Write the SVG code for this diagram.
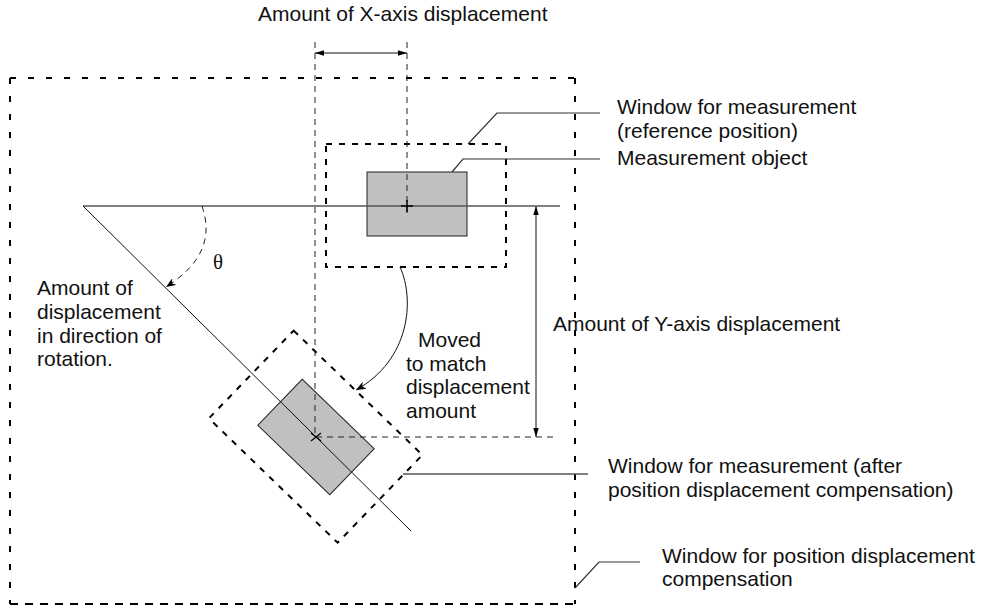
<svg xmlns="http://www.w3.org/2000/svg" width="981" height="608" viewBox="0 0 981 608">
<style>
text{font-family:"Liberation Sans",Arial,sans-serif;font-size:21px;fill:#111}
.th{font-family:"Liberation Serif","DejaVu Serif",serif}
.bd{fill:none;stroke:#000;stroke-width:2}
.win{fill:none;stroke:#000;stroke-width:2;stroke-dasharray:6 7}
.thin{fill:none;stroke:#222;stroke-width:1;stroke-dasharray:6 5}
.ln{fill:none;stroke:#111;stroke-width:1}
.gl{fill:none;stroke:#555;stroke-width:1.6}
.ld{fill:none;stroke:#333;stroke-width:1.2}
.obj{fill:#c0c0c0;stroke:#222;stroke-width:1}
</style>
<defs>
<marker id="ah" viewBox="0 0 10 6" refX="10" refY="3" markerWidth="9" markerHeight="6" markerUnits="userSpaceOnUse" orient="auto-start-reverse">
<path d="M0,0 L10,3 L0,6 z" fill="#000"/>
</marker>
<marker id="bh" viewBox="0 0 10 8" refX="10" refY="4" markerWidth="10" markerHeight="8" markerUnits="userSpaceOnUse" orient="auto">
<path d="M0,0 L10,4 L0,8 L3,4 z" fill="#000"/>
</marker>
</defs>

<g id="outer-window">
<line class="bd" x1="10" y1="78" x2="575" y2="78" stroke-dasharray="6 12"/>
<line class="bd" x1="10" y1="78" x2="10" y2="604" stroke-dasharray="6 12"/>
<line class="bd" x1="575" y1="78" x2="575" y2="604" stroke-dasharray="6 12"/>
<line class="bd" x1="10" y1="604" x2="575" y2="604" stroke-dasharray="8 7"/>
</g>

<g id="ref-window">
<rect class="win" x="326" y="144" width="180" height="123"/>
</g>
<g id="ref-object">
<rect class="obj" x="367" y="172" width="100" height="64"/>
</g>

<g id="moved-window" transform="translate(316,437) rotate(44)">
<rect class="win" x="-90" y="-61" width="179" height="122"/>
</g>
<g id="moved-object" transform="translate(316,437) rotate(44)">
<rect class="obj" x="-50" y="-32" width="100" height="64"/>
</g>

<g id="connectors">
<line class="thin" x1="315" y1="42" x2="315" y2="437"/>
<line class="thin" x1="407" y1="42" x2="407" y2="215"/>
<line class="thin" x1="316" y1="437" x2="556" y2="437"/>
<line class="ln" x1="315" y1="53" x2="407" y2="53" marker-start="url(#ah)" marker-end="url(#ah)"/>
<line class="ln" x1="536" y1="206" x2="536" y2="437" marker-start="url(#ah)" marker-end="url(#ah)"/>
<line class="gl" x1="83" y1="206" x2="560" y2="206"/>
<line class="ln" x1="83" y1="206" x2="411" y2="531"/>
<path class="thin" d="M202,206 C212,235 205,262 166,287" marker-end="url(#bh)"/>
<path class="ln" d="M400,267 C415,300 410,360 356,390" marker-end="url(#bh)"/>
<polyline class="ld" points="468,144 497,113 600,113"/>
<polyline class="ld" points="452,172 463,159 600,159"/>
<line class="gl" x1="403" y1="474" x2="588" y2="474"/>
<polyline class="ld" points="575,588 599,562 640,562"/>
<path d="M401,206 H413 M407,200 V212" stroke="#000" stroke-width="1.5"/>
<path d="M316,437 m-5,-4 l10,8 m0,-8 l-10,8" stroke="#000" stroke-width="1.2"/>
</g>

<g id="labels">
<text x="258" y="21">Amount of X-axis displacement</text>
<text x="617" y="114">Window for measurement</text>
<text x="617" y="138">(reference position)</text>
<text x="617" y="165">Measurement object</text>
<text x="553" y="331">Amount of Y-axis displacement</text>
<text x="608" y="473">Window for measurement (after</text>
<text x="608" y="497">position displacement compensation)</text>
<text x="662" y="563">Window for position displacement</text>
<text x="662" y="586">compensation</text>
<text x="37" y="295">Amount of</text>
<text x="37" y="319">displacement</text>
<text x="37" y="343">in direction of</text>
<text x="37" y="366">rotation.</text>
<text x="418" y="347">Moved</text>
<text x="406" y="371">to match</text>
<text x="406" y="394">displacement</text>
<text x="406" y="418">amount</text>
<text class="th" x="213" y="269">θ</text>
</g>
</svg>
